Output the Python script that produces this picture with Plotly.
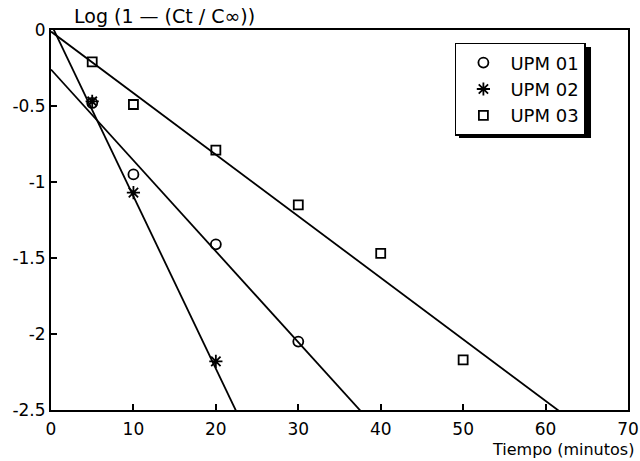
import plotly.graph_objects as go

# ---- data ----
series_names = ["UPM 01", "UPM 02", "UPM 03"]
upm01_t = [5, 10, 20, 30]
upm01_v = [-0.48, -0.95, -1.41, -2.05]
upm02_t = [5, 10, 20]
upm02_v = [-0.47, -1.07, -2.18]
upm03_t = [5, 10, 20, 30, 40, 50]
upm03_v = [-0.21, -0.49, -0.79, -1.15, -1.47, -2.17]
# fitted regression lines: intercept, slope
fit_intercept = [-0.26, 0.04, -0.01]
fit_slope = [-0.0598, -0.1134, -0.0405]
fit_x = [0, 70]

x_ticks = [0, 10, 20, 30, 40, 50, 60, 70]
y_ticks = [0, -0.5, -1, -1.5, -2, -2.5]
y_ticktext = ["0", "-0.5", "-1", "-1.5", "-2", "-2.5"]

FONT = "DejaVu Sans"
symbols = ["circle-open", "asterisk-open", "square-open"]
sizes = [10, 11, 9]
xs = [upm01_t, upm02_t, upm03_t]
ys = [upm01_v, upm02_v, upm03_v]

fig = go.Figure()
for i in range(3):
    fig.add_trace(go.Scatter(
        x=fit_x, y=[fit_intercept[i] + fit_slope[i] * xx for xx in fit_x],
        mode="lines", line=dict(color="black", width=1.8),
        showlegend=False, hoverinfo="skip"))
for i in range(3):
    fig.add_trace(go.Scatter(
        x=xs[i], y=ys[i], mode="markers", name=series_names[i],
        marker=dict(symbol=symbols[i], size=sizes[i], color="black",
                    line=dict(color="black", width=1.8)),
        cliponaxis=False))

fig.update_layout(
    width=640, height=461,
    margin=dict(l=51, r=12, t=30, b=51, autoexpand=False),
    paper_bgcolor="white", plot_bgcolor="white",
    font=dict(family=FONT, size=17, color="black"),
    showlegend=True,
    legend=dict(x=0.700, y=0.966, xanchor="left", yanchor="top",
                bgcolor="white", bordercolor="black", borderwidth=1.5,
                font=dict(family=FONT, size=18, color="black"),
                itemwidth=44, tracegroupgap=0),
    shapes=[
        dict(type="rect", xref="paper", yref="paper",
             x0=0.7071, x1=0.9359, y0=0.7158, y1=0.9553,
             fillcolor="black", line=dict(width=0), layer="above"),
    ],
    xaxis=dict(range=[0, 70], tickvals=x_ticks, ticks="inside", ticklen=6,
               tickwidth=1.5, tickcolor="black", showline=True, linewidth=2,
               linecolor="black", mirror=True, showgrid=False, zeroline=False,
               ticklabeloverflow="allow", ticklabelstandoff=3, automargin=False,
               tickfont=dict(family=FONT, size=17)),
    yaxis=dict(range=[-2.5, 0], tickvals=y_ticks, ticktext=y_ticktext,
               ticks="inside", ticklen=6, tickwidth=1.5, tickcolor="black",
               showline=True, linewidth=2, linecolor="black", mirror=True,
               showgrid=False, zeroline=False, automargin=False,
               tickfont=dict(family=FONT, size=17)),
    annotations=[
        dict(text="Log (1 — (Ct / C∞))", xref="paper", yref="paper",
             x=0.037, y=1.0, xanchor="left", yanchor="bottom", yshift=1,
             showarrow=False, font=dict(family=FONT, size=19, color="black")),
        dict(text="Tiempo (minutos)", xref="paper", yref="paper",
             x=1.0, y=0, xanchor="right", yanchor="bottom", yshift=-51, xshift=8,
             showarrow=False, font=dict(family=FONT, size=16, color="black")),
    ],
)

fig.write_html("out.html")
